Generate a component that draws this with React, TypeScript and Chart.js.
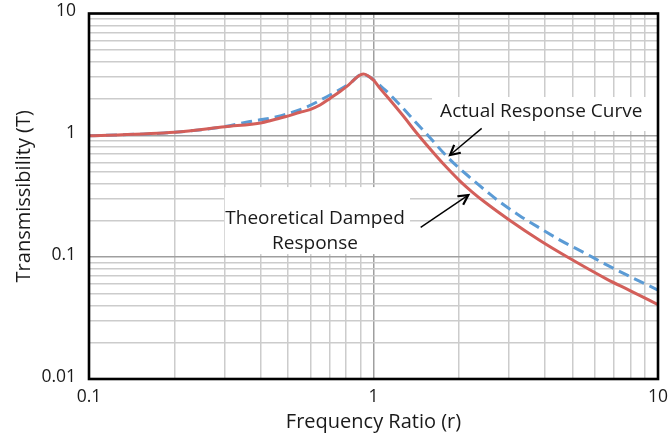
import React, { useEffect, useRef } from "react";
import { Chart, registerables } from "chart.js";

Chart.register(...registerables);

const FONT = "'Open Sans', 'DejaVu Sans', sans-serif";

// Axis ticks (log decades) and their labels
const xMajorTicks = [0.1, 1, 10];
const xTickLabels = ["0.1", "1", "10"];
const yMajorTicks = [0.01, 0.1, 1, 10];
const yTickLabels = ["0.01", "0.1", "1", "10"];
const minorMultipliers = [2, 3, 4, 5, 6, 7, 8, 9];

const xTitle = "Frequency Ratio (r)";
const yTitle = "Transmissibility (T)";

// Theoretical damped response (red, solid)
const theoryR = [0.1, 0.2, 0.301, 0.405, 0.433, 0.489, 0.552, 0.598, 0.649, 0.703, 0.763, 0.804, 0.921, 1.0, 1.054, 1.143, 1.273, 1.418, 1.668, 1.827, 2.014, 2.219, 2.466, 3.018, 3.847, 4.907, 6.603, 7.97, 10];
const theoryT = [0.99, 1.058, 1.176, 1.269, 1.318, 1.42, 1.545, 1.628, 1.773, 2.01, 2.29, 2.51, 3.19, 2.84, 2.43, 1.95, 1.44, 1.044, 0.67, 0.531, 0.421, 0.344, 0.282, 0.2, 0.137, 0.0974, 0.0661, 0.0532, 0.0408];

// Actual response curve (blue, dashed)
const actualR = [0.1, 0.2, 0.3, 0.368, 0.457, 0.567, 0.685, 0.827, 0.911, 1.082, 1.239, 1.418, 1.538, 1.827, 2.214, 2.5, 2.784, 3.273, 3.943, 4.524, 5.616, 6.423, 7.97, 10];
const actualT = [0.99, 1.06, 1.18, 1.298, 1.421, 1.666, 2.074, 2.673, 3.17, 2.432, 1.774, 1.254, 1.025, 0.657, 0.438, 0.346, 0.283, 0.218, 0.167, 0.138, 0.106, 0.0894, 0.0693, 0.0537];

// Annotations (anchored in data coordinates)
const actualLabel = ["Actual Response Curve"];
const actualLabelAt = [3.886, 1.421]; // centre x, first baseline
const actualBox = [1.606, 2.063, 9.92, 1.085];
const actualArrow = [2.4, 1.14, 1.858, 0.689];

const theoryLabel = ["Theoretical Damped", "Response"];
const theoryLabelAt = [0.623, 0.187];
const theoryBox = [0.3, 0.376, 1.344, 0.106];
const theoryArrow = [1.465, 0.1757, 2.154, 0.3235];

function buildTicks(majors: number[]) {
  const out: { value: number }[] = [];
  majors.forEach((m, i) => {
    out.push({ value: m });
    if (i < majors.length - 1) {
      minorMultipliers.forEach((k) => out.push({ value: +(m * k).toPrecision(6) }));
    }
  });
  return out;
}

function isMajor(v: number, majors: number[]) {
  return majors.findIndex((m) => Math.abs(v - m) / m < 1e-6);
}

function drawArrow(ctx: CanvasRenderingContext2D, x1: number, y1: number, x2: number, y2: number) {
  const ang = Math.atan2(y2 - y1, x2 - x1);
  ctx.beginPath();
  ctx.moveTo(x1, y1);
  ctx.lineTo(x2, y2);
  ctx.lineWidth = 1.4;
  ctx.stroke();
  const L = 11;
  const a = (28 * Math.PI) / 180;
  ctx.beginPath();
  ctx.moveTo(x2 - L * Math.cos(ang - a), y2 - L * Math.sin(ang - a));
  ctx.lineTo(x2, y2);
  ctx.lineTo(x2 - L * Math.cos(ang + a), y2 - L * Math.sin(ang + a));
  ctx.lineWidth = 2.2;
  ctx.lineJoin = "miter";
  ctx.stroke();
}

function zeroPadding(scale: any) {
  scale.paddingLeft = 0;
  scale.paddingRight = 0;
  scale.paddingTop = 0;
  scale.paddingBottom = 0;
}

const overlayPlugin = {
  id: "overlay",
  beforeDatasetsDraw(chart: any) {
    const { ctx, scales } = chart;
    const x = scales.x, y = scales.y;
    ctx.save();
    ctx.fillStyle = "#ffffff";
    for (const b of [actualBox, theoryBox]) {
      const x1 = x.getPixelForValue(b[0]);
      const y1 = y.getPixelForValue(b[1]);
      const x2 = x.getPixelForValue(b[2]);
      const y2 = y.getPixelForValue(b[3]);
      ctx.fillRect(Math.min(x1, x2), Math.min(y1, y2), Math.abs(x2 - x1), Math.abs(y2 - y1));
    }
    ctx.restore();
  },
  afterDatasetsDraw(chart: any) {
    const { ctx, scales } = chart;
    const x = scales.x, y = scales.y;
    ctx.save();
    ctx.fillStyle = "#1a1a1a";
    ctx.strokeStyle = "#000000";
    ctx.font = `19px ${FONT}`;
    ctx.textAlign = "center";
    ctx.textBaseline = "alphabetic";
    const lineGap = 25.3;
    const labels: [string[], number[]][] = [
      [actualLabel, actualLabelAt],
      [theoryLabel, theoryLabelAt],
    ];
    for (const [lines, at] of labels) {
      const cx = x.getPixelForValue(at[0]);
      const cy = y.getPixelForValue(at[1]);
      lines.forEach((t, i) => ctx.fillText(t, cx, cy + i * lineGap));
    }
    for (const a of [actualArrow, theoryArrow]) {
      drawArrow(
        ctx,
        x.getPixelForValue(a[0]),
        y.getPixelForValue(a[1]),
        x.getPixelForValue(a[2]),
        y.getPixelForValue(a[3])
      );
    }
    ctx.restore();
  },
  afterDraw(chart: any) {
    const { ctx, chartArea } = chart;
    ctx.save();
    ctx.strokeStyle = "#000000";
    ctx.lineWidth = 2.6;
    ctx.strokeRect(chartArea.left, chartArea.top, chartArea.right - chartArea.left, chartArea.bottom - chartArea.top);
    ctx.restore();
  },
};

export default function App() {
  const canvasRef = useRef<HTMLCanvasElement | null>(null);

  useEffect(() => {
    if (!canvasRef.current) return;
    const theoryData = theoryR.map((r, i) => ({ x: r, y: theoryT[i] }));
    const actualData = actualR.map((r, i) => ({ x: r, y: actualT[i] }));

    const chart = new Chart(canvasRef.current, {
      type: "line",
      data: {
        datasets: [
          {
            label: "Theoretical Damped Response",
            data: theoryData,
            borderColor: "#d35f5a",
            borderWidth: 3,
            pointRadius: 0,
            cubicInterpolationMode: "monotone",
            fill: false,
          },
          {
            label: "Actual Response Curve",
            data: actualData,
            borderColor: "#5b9bd5",
            borderWidth: 3,
            borderDash: [11, 6],
            pointRadius: 0,
            cubicInterpolationMode: "monotone",
            fill: false,
          },
        ],
      },
      options: {
        animation: false,
        responsive: false,
        devicePixelRatio: 1,
        layout: { padding: { top: 13.5, right: 12, left: 0, bottom: 0 } },
        plugins: {
          legend: { display: false },
          tooltip: { enabled: false },
        },
        scales: {
          x: {
            type: "logarithmic",
            min: 0.1,
            max: 10,
            afterBuildTicks: (scale: any) => {
              scale.ticks = buildTicks(xMajorTicks);
            },
            afterFit: (scale: any) => {
              scale.height = 61;
              zeroPadding(scale);
            },
            border: { display: false },
            grid: {
              drawTicks: false,
              lineWidth: 1.5,
              color: (c: any) => (isMajor(c.tick.value, xMajorTicks) >= 0 ? "#9f9f9f" : "#cccccc"),
            },
            ticks: {
              autoSkip: false,
              maxRotation: 0,
              minRotation: 0,
              padding: 8,
              color: "#1a1a1a",
              font: { family: FONT, size: 17.5 },
              callback: (v: any) => {
                const i = isMajor(Number(v), xMajorTicks);
                return i >= 0 ? xTickLabels[i] : "";
              },
            },
            title: {
              display: true,
              text: xTitle,
              color: "#1a1a1a",
              font: { family: FONT, size: 20 },
              padding: { top: 0, bottom: 6 },
            },
          },
          y: {
            type: "logarithmic",
            min: 0.01,
            max: 10,
            afterBuildTicks: (scale: any) => {
              scale.ticks = buildTicks(yMajorTicks);
            },
            afterFit: (scale: any) => {
              scale.width = 89;
              zeroPadding(scale);
            },
            border: { display: false },
            grid: {
              drawTicks: false,
              lineWidth: 1.5,
              color: (c: any) => (isMajor(c.tick.value, yMajorTicks) >= 0 ? "#9f9f9f" : "#cccccc"),
            },
            ticks: {
              autoSkip: false,
              padding: 13,
              labelOffset: -2,
              color: "#1a1a1a",
              font: { family: FONT, size: 17.5 },
              callback: (v: any) => {
                const i = isMajor(Number(v), yMajorTicks);
                return i >= 0 ? yTickLabels[i] : "";
              },
            },
            title: {
              display: true,
              text: yTitle,
              color: "#1a1a1a",
              font: { family: FONT, size: 20 },
              padding: { top: 12, bottom: 0 },
            },
          },
        },
      },
      plugins: [overlayPlugin],
    } as any);

    return () => chart.destroy();
  }, []);

  return (
    <div style={{ position: "absolute", left: 0, top: 0, width: 670, height: 440, background: "#ffffff" }}>
      <canvas ref={canvasRef} width={670} height={440} style={{ display: "block", width: 670, height: 440 }} />
    </div>
  );
}
